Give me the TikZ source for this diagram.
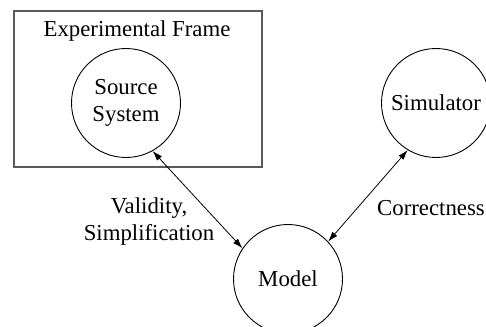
\documentclass[tikz,border=0pt]{standalone}
\usepackage{fontspec}
\setmainfont{Liberation Serif}
\usetikzlibrary{arrows.meta}
\begin{document}
\begin{tikzpicture}[x=1pt,y=-1pt,
  every node/.style={font=\fontsize{22.8}{27}\selectfont},
  ball/.style={draw, circle, line width=0.9pt, minimum size=109pt, inner sep=0pt, align=center},
  frame/.style={draw=black!65, line width=1.6pt},
  link/.style={line width=0.8pt, {Latex[length=10pt,width=6.5pt]}-{Latex[length=10pt,width=6.5pt]}},
  lbl/.style={align=center, inner sep=0pt}]
  \useasboundingbox (0,0) rectangle (486,326);
  \clip (0,0) rectangle (486,326);
  % experimental frame around the source system
  \draw[frame] (14,11) rectangle (262,167);
  \node[lbl] (ef) at (137,31) {Experimental Frame};
  % the three entities
  \node[ball] (src) at (126,103) {Source\\System};
  \node[ball] (sim) at (436,103) {Simulator};
  \node[ball] (mod) at (288,279) {Model};
  % relations between them
  \draw[link] (src.299) -- (mod.146);
  \draw[link] (mod.43) -- (sim.239);
  \node[lbl] (val) at (149,222) {Validity,\\Simplification};
  \node[lbl] (cor) at (431,208) {Correctness};
\end{tikzpicture}
\end{document}
